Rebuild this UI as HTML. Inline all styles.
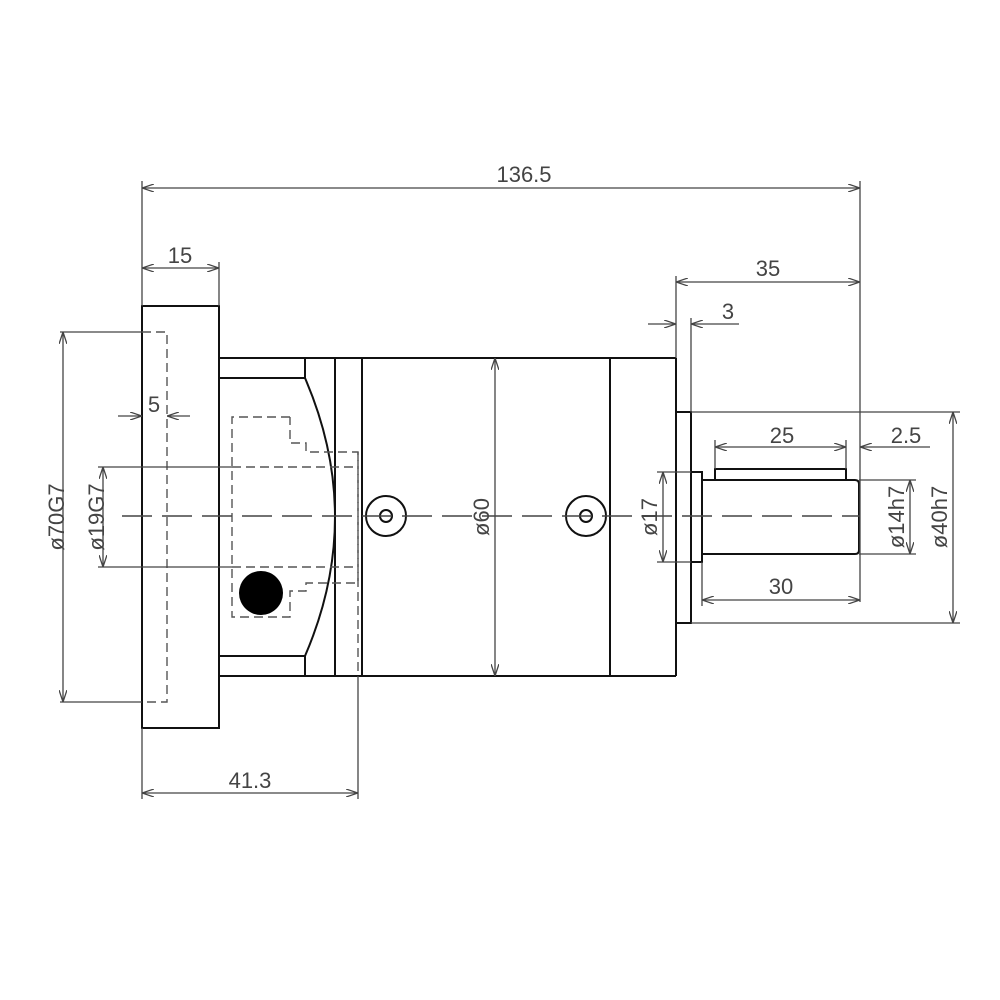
<!DOCTYPE html>
<html><head><meta charset="utf-8"><style>html,body{margin:0;padding:0;background:#fff}svg{display:block}</style></head>
<body>
<svg width="1000" height="1000" viewBox="0 0 1000 1000" xmlns="http://www.w3.org/2000/svg">
<defs>
<marker id="a" viewBox="0 0 12 8" refX="12" refY="4" markerWidth="12" markerHeight="8" markerUnits="userSpaceOnUse" orient="auto-start-reverse">
<path d="M0,0 L12,4 L0,8" fill="none" stroke="#444" stroke-width="1.3"/>
</marker>
</defs>
<g fill="none" stroke="#111" stroke-width="2">
<rect x="142" y="306" width="77" height="422"/>
<path d="M219 358 H676 M219 676 H676"/>
<path d="M219 378 H305 M219 656 H305 M305 358 V378 M305 656 V676"/>
<path d="M305 378 Q365 517 305 656"/>
<path d="M335 358 V676 M362 358 V676 M610 358 V676 M676 358 V676"/>
<rect x="676" y="412" width="15" height="211"/>
<rect x="691" y="472" width="11" height="90"/>
<path d="M702 480 H855 Q859 480 859 484 V550 Q859 554 855 554 H702"/>
<rect x="715" y="469" width="131" height="11"/>
<circle cx="386" cy="516" r="20"/><circle cx="386" cy="516" r="6"/>
<circle cx="586" cy="516" r="20"/><circle cx="586" cy="516" r="6"/>
</g>
<circle cx="261" cy="593" r="22" fill="#000"/>
<g fill="none" stroke="#555" stroke-width="1.4" stroke-dasharray="9,5">
<path d="M142 332 H167 V702 H142"/>
<path d="M290 417 H232 V617 H290 V591 H306 V583 H358 V452 H306 V443 H290 V417"/>
<path d="M232 467 H358 M232 567 H358"/>
<path d="M358 452 V676"/>
</g>
<g stroke="#444" stroke-width="1.4" fill="none">
<path d="M122 516 H860" stroke-dasharray="30,10"/>
</g>
<g stroke="#444" stroke-width="1.3" fill="none">
<path d="M142 181 V306 M860 181 V602 M219 262 V306 M676 276 V358 M691 318 V412"/>
<path d="M142 728 V799 M358 676 V799"/>
<path d="M60 332 H142 M60 702 H142 M98 467 H232 M98 567 H232"/>
<path d="M691 412 H960 M691 623 H960 M859 480 H916 M859 554 H916 M657 472 H691 M657 562 H691"/>
<path d="M715 440 V469 M846 440 V469 M702 562 V606"/>
<path d="M142 188 H860" marker-start="url(#a)" marker-end="url(#a)"/>
<path d="M142 268 H219" marker-start="url(#a)" marker-end="url(#a)"/>
<path d="M676 282 H860" marker-start="url(#a)" marker-end="url(#a)"/>
<path d="M648 324 H676" marker-end="url(#a)"/>
<path d="M739 324 H691" marker-end="url(#a)"/>
<path d="M118 416 H142" marker-end="url(#a)"/>
<path d="M190 416 H167" marker-end="url(#a)"/>
<path d="M715 447 H846" marker-start="url(#a)" marker-end="url(#a)"/>
<path d="M930 447 H860" marker-end="url(#a)"/>
<path d="M702 600 H860" marker-start="url(#a)" marker-end="url(#a)"/>
<path d="M142 793 H358" marker-start="url(#a)" marker-end="url(#a)"/>
<path d="M63 332 V702" marker-start="url(#a)" marker-end="url(#a)"/>
<path d="M103 467 V567" marker-start="url(#a)" marker-end="url(#a)"/>
<path d="M495 358 V676" marker-start="url(#a)" marker-end="url(#a)"/>
<path d="M663 472 V562" marker-start="url(#a)" marker-end="url(#a)"/>
<path d="M910 480 V554" marker-start="url(#a)" marker-end="url(#a)"/>
<path d="M953 412 V623" marker-start="url(#a)" marker-end="url(#a)"/>
</g>
<g font-family="Liberation Sans, sans-serif" font-size="22" fill="#444" text-anchor="middle">
<text x="524" y="182">136.5</text>
<text x="180" y="263">15</text>
<text x="768" y="276">35</text>
<text x="728" y="319">3</text>
<text x="154" y="412">5</text>
<text x="782" y="443">25</text>
<text x="906" y="443">2.5</text>
<text x="781" y="594">30</text>
<text x="250" y="788">41.3</text>
<text transform="translate(64,517) rotate(-90)">ø70G7</text>
<text transform="translate(104,517) rotate(-90)">ø19G7</text>
<text transform="translate(489,517) rotate(-90)">ø60</text>
<text transform="translate(657,517) rotate(-90)">ø17</text>
<text transform="translate(904,517) rotate(-90)">ø14h7</text>
<text transform="translate(947,517) rotate(-90)">ø40h7</text>
</g>
</svg>
</body></html>
